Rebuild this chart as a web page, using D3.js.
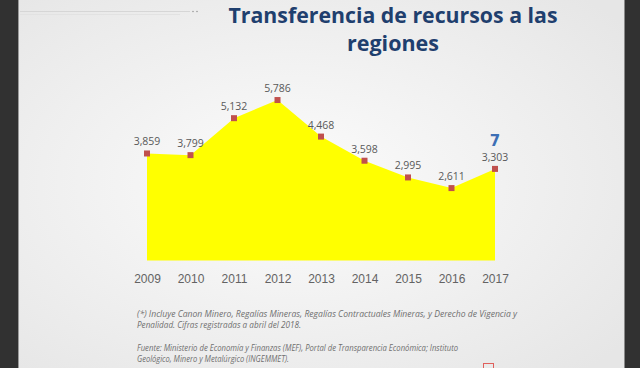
<!DOCTYPE html>
<html>
<head>
<meta charset="utf-8">
<script src="https://cdn.jsdelivr.net/npm/d3@7"></script>
<style>
  html, body { margin: 0; padding: 0; background: #313131; }
  svg { display: block; }
</style>
</head>
<body>
<svg></svg>
<script>
var years = ["2009", "2010", "2011", "2012", "2013", "2014", "2015", "2016", "2017"];
var values = [3859, 3799, 5132, 5786, 4468, 3598, 2995, 2611, 3303];
var titleLines = ["Transferencia de recursos a las", "regiones"];
var notes = [
  "(*) Incluye Canon Minero, Regalías Mineras, Regalías Contractuales Mineras, y Derecho de Vigencia y",
  "Penalidad. Cifras registradas a abril del 2018.",
  "Fuente: Ministerio de Economía y Finanzas (MEF), Portal de Transparencia Económica; Instituto",
  "Geológico, Minero y Metalúrgico (INGEMMET)."
];

var width = 640, height = 368;
var svg = d3.select("svg").attr("width", width).attr("height", height);

// slide background
var defs = svg.append("defs");
var grad = defs.append("radialGradient").attr("id", "bg")
    .attr("cx", "45%").attr("cy", "50%").attr("r", "70%");
grad.append("stop").attr("offset", "0%").attr("stop-color", "#fcfcfc");
grad.append("stop").attr("offset", "100%").attr("stop-color", "#e6e6e6");

svg.append("rect").attr("width", width).attr("height", height).attr("fill", "#313131");
svg.append("rect").attr("x", 18).attr("y", 0).attr("width", 607).attr("height", height)
    .attr("fill", "url(#bg)");
svg.append("line").attr("x1", 18.5).attr("x2", 18.5).attr("y1", 0).attr("y2", height)
    .attr("stroke", "#9a9a9a").attr("stroke-width", 1);
svg.append("line").attr("x1", 624.5).attr("x2", 624.5).attr("y1", 0).attr("y2", height)
    .attr("stroke", "#8a8a8a").attr("stroke-width", 1);

// decorative rule top left
svg.append("line").attr("x1", 20).attr("x2", 190).attr("y1", 11.5).attr("y2", 11.5)
    .attr("stroke", "#d6d6d6");
svg.append("line").attr("x1", 20).attr("x2", 180).attr("y1", 14.5).attr("y2", 14.5)
    .attr("stroke", "#e2e2e2");
svg.selectAll(".dot").data([193, 197]).enter().append("circle")
    .attr("cx", function(d) { return d; }).attr("cy", 11.5).attr("r", 0.8).attr("fill", "#9a9a9a");

// title
svg.selectAll(".title").data(titleLines).enter().append("text")
    .attr("class", "title")
    .attr("x", 393)
    .attr("y", function(d, i) { return 23 + i * 28; })
    .attr("text-anchor", "middle")
    .attr("font-family", "Open Sans, sans-serif")
    .attr("font-weight", "bold")
    .attr("font-size", 21)
    .attr("fill", "#1f3f6e")
    .attr("textLength", function(d, i) { return i == 0 ? 329 : 92; })
    .attr("lengthAdjust", "spacingAndGlyphs")
    .text(function(d) { return d; });

// scales
var x = d3.scalePoint().domain(years).range([147, 495]);
var y = d3.scaleLinear().domain([0, 6000]).range([260.5, 94.1]);

var data = years.map(function(d, i) { return { year: d, value: values[i] }; });

var area = d3.area()
    .x(function(d) { return x(d.year); })
    .y0(y(0))
    .y1(function(d) { return y(d.value); });

svg.append("path").datum(data)
    .attr("d", area)
    .attr("fill", "#ffff00");

// markers
svg.selectAll(".marker").data(data).enter().append("rect")
    .attr("x", function(d) { return x(d.year) - 3; })
    .attr("y", function(d) { return y(d.value) - 3; })
    .attr("width", 6).attr("height", 6)
    .attr("fill", "#c0504d");

// value labels
var fmt = d3.format(",");
svg.selectAll(".vlabel").data(data).enter().append("text")
    .attr("x", function(d) { return x(d.year); })
    .attr("y", function(d) { return y(d.value) - 8; })
    .attr("text-anchor", "middle")
    .attr("font-family", "Open Sans, sans-serif")
    .attr("font-size", 10.5)
    .attr("fill", "#595959")
    .text(function(d) { return fmt(d.value); });

// little blue mark over last point
svg.append("text")
    .attr("x", x("2017"))
    .attr("y", y(values[values.length - 1]) - 23)
    .attr("text-anchor", "middle")
    .attr("font-family", "DejaVu Sans, sans-serif")
    .attr("font-weight", "bold")
    .attr("font-size", 15)
    .attr("fill", "#3d6fb5")
    .text("7");

// x axis (labels only)
var xAxis = svg.append("g")
    .attr("transform", "translate(0,274)")
    .call(d3.axisBottom(x).tickSize(0).tickPadding(0));
xAxis.select(".domain").remove();
xAxis.selectAll("text")
    .attr("font-family", "Liberation Sans, Arial, sans-serif")
    .attr("font-size", 12)
    .attr("fill", "#636363");

// notes
svg.selectAll(".note").data(notes).enter().append("text")
    .attr("x", 137)
    .attr("y", function(d, i) { return [317, 328, 351, 362][i]; })
    .attr("font-family", "Open Sans, sans-serif")
    .attr("font-style", "italic")
    .attr("font-size", 8.3)
    .attr("fill", "#6f6f6f")
    .attr("textLength", function(d, i) { return [380, 164, 321, 152][i]; })
    .attr("lengthAdjust", "spacingAndGlyphs")
    .text(function(d) { return d; });

// small red box bottom right
svg.append("rect").attr("x", 483.5).attr("y", 363.5).attr("width", 10).attr("height", 8)
    .attr("fill", "none").attr("stroke", "#e0605c").attr("stroke-width", 1);
</script>
</body>
</html>
